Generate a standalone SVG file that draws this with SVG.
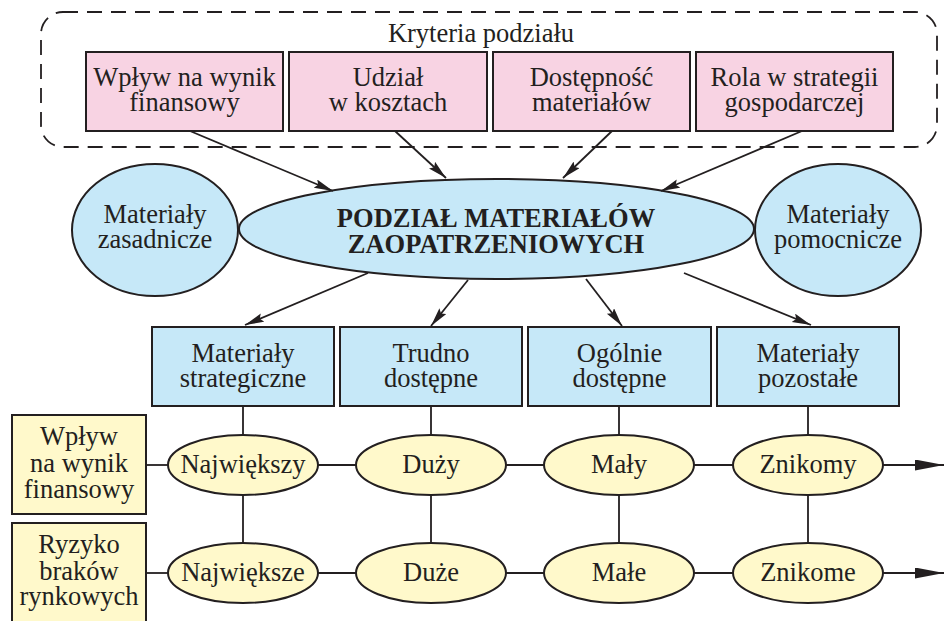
<svg xmlns="http://www.w3.org/2000/svg" width="944" height="621" viewBox="0 0 944 621" font-family="'Liberation Serif', 'DejaVu Serif', serif">
  <defs>
    <style>
      text { font-family: 'Liberation Serif', 'DejaVu Serif', serif; font-size: 26.5px; fill: #231F20; text-anchor: middle; }
      .bold { font-weight: bold; }
      .pink { fill: #F8D3E3; stroke: #231F20; stroke-width: 2; }
      .blue { fill: #C6E8F8; stroke: #231F20; stroke-width: 2; }
      .yellow { fill: #FFF9CB; stroke: #231F20; stroke-width: 2; }
      .frame { fill: none; stroke: #231F20; stroke-width: 1.8; stroke-dasharray: 15 9; }
      .arrow { fill: none; stroke: #231F20; stroke-width: 1.8; marker-end: url(#head); }
      .link { fill: none; stroke: #231F20; stroke-width: 1.8; }
      .longarrow { fill: none; stroke: #231F20; stroke-width: 1.8; marker-end: url(#bighead); }
    </style>
    <marker id="head" markerUnits="userSpaceOnUse" markerWidth="20" markerHeight="10" refX="19" refY="4.5" orient="auto">
      <path d="M0,0 L19,4.5 L0,9 L3,4.5 z" fill="#231F20"/>
    </marker>
    <marker id="bighead" markerUnits="userSpaceOnUse" markerWidth="30" markerHeight="12" refX="29" refY="5.5" orient="auto">
      <path d="M0,0 L29,5.5 L0,11 z" fill="#231F20"/>
    </marker>
  </defs>

  <!-- criteria frame -->
  <g id="criteria">
    <rect class="frame" x="41" y="12" width="896" height="135" rx="22" ry="22"/>
    <text x="481" y="42">Kryteria podziału</text>
  </g>

  <g id="c-wplyw">
    <rect class="pink" x="86" y="52" width="197" height="79"/>
    <text x="184.5" y="86">Wpływ na wynik</text>
    <text x="184.5" y="111">finansowy</text>
  </g>
  <g id="c-udzial">
    <rect class="pink" x="289" y="52" width="198" height="79"/>
    <text x="388" y="86">Udział</text>
    <text x="388" y="111">w kosztach</text>
  </g>
  <g id="c-dostepnosc">
    <rect class="pink" x="493" y="52" width="197" height="79"/>
    <text x="591.5" y="86">Dostępność</text>
    <text x="591.5" y="111">materiałów</text>
  </g>
  <g id="c-rola">
    <rect class="pink" x="696" y="52" width="197" height="79"/>
    <text x="794.5" y="86">Rola w strategii</text>
    <text x="794.5" y="111">gospodarczej</text>
  </g>

  <!-- central level -->
  <g id="zasadnicze">
    <ellipse class="blue" cx="155" cy="230" rx="83" ry="66"/>
    <text x="155" y="223">Materiały</text>
    <text x="155" y="248">zasadnicze</text>
  </g>
  <g id="podzial">
    <ellipse class="blue" cx="496.5" cy="229" rx="257.5" ry="50"/>
    <text class="bold" x="496" y="227">PODZIAŁ MATERIAŁÓW</text>
    <text class="bold" x="496" y="253">ZAOPATRZENIOWYCH</text>
  </g>
  <g id="pomocnicze">
    <ellipse class="blue" cx="838" cy="230" rx="83" ry="66"/>
    <text x="838" y="223">Materiały</text>
    <text x="838" y="248">pomocnicze</text>
  </g>

  <!-- categories -->
  <g id="strategiczne">
    <rect class="blue" x="152" y="327" width="182" height="79"/>
    <text x="243" y="362">Materiały</text>
    <text x="243" y="387">strategiczne</text>
  </g>
  <g id="trudno">
    <rect class="blue" x="340" y="327" width="182" height="79"/>
    <text x="431" y="362">Trudno</text>
    <text x="431" y="387">dostępne</text>
  </g>
  <g id="ogolnie">
    <rect class="blue" x="528" y="327" width="183" height="79"/>
    <text x="619.5" y="362">Ogólnie</text>
    <text x="619.5" y="387">dostępne</text>
  </g>
  <g id="pozostale">
    <rect class="blue" x="717" y="327" width="182" height="79"/>
    <text x="808" y="362">Materiały</text>
    <text x="808" y="387">pozostałe</text>
  </g>

  <!-- connectors -->
  <g id="connectors">
    <line class="arrow" x1="190" y1="131" x2="333" y2="191"/>
    <line class="arrow" x1="395" y1="131" x2="446" y2="178"/>
    <line class="arrow" x1="612" y1="131" x2="563" y2="178"/>
    <line class="arrow" x1="802" y1="131" x2="661" y2="191"/>

    <line class="arrow" x1="368" y1="273" x2="245" y2="325"/>
    <line class="arrow" x1="468" y1="280" x2="431" y2="326"/>
    <line class="arrow" x1="586" y1="279" x2="622" y2="326"/>
    <line class="arrow" x1="684" y1="273" x2="811" y2="325"/>

    <line class="link" x1="243" y1="406" x2="243" y2="435"/>
    <line class="link" x1="431" y1="406" x2="431" y2="435"/>
    <line class="link" x1="619" y1="406" x2="619" y2="435"/>
    <line class="link" x1="808" y1="406" x2="808" y2="435"/>

    <line class="link" x1="243" y1="495" x2="243" y2="543"/>
    <line class="link" x1="431" y1="495" x2="431" y2="543"/>
    <line class="link" x1="619" y1="495" x2="619" y2="543"/>
    <line class="link" x1="808" y1="495" x2="808" y2="543"/>

    <line class="link" x1="146" y1="465" x2="168" y2="465"/>
    <line class="link" x1="318" y1="465" x2="356" y2="465"/>
    <line class="link" x1="506" y1="465" x2="544" y2="465"/>
    <line class="link" x1="694" y1="465" x2="733" y2="465"/>
    <line class="longarrow" x1="883" y1="465" x2="944" y2="465"/>

    <line class="link" x1="146" y1="573" x2="168" y2="573"/>
    <line class="link" x1="318" y1="573" x2="356" y2="573"/>
    <line class="link" x1="506" y1="573" x2="544" y2="573"/>
    <line class="link" x1="694" y1="573" x2="733" y2="573"/>
    <line class="longarrow" x1="883" y1="573" x2="944" y2="573"/>
  </g>

  <!-- row headers -->
  <g id="row-wplyw">
    <rect class="yellow" x="12" y="415" width="134" height="99"/>
    <text x="79" y="445">Wpływ</text>
    <text x="79" y="472">na wynik</text>
    <text x="79" y="498">finansowy</text>
  </g>
  <g id="row-ryzyko">
    <rect class="yellow" x="12" y="523" width="134" height="100"/>
    <text x="79" y="553">Ryzyko</text>
    <text x="79" y="580">braków</text>
    <text x="79" y="605">rynkowych</text>
  </g>

  <!-- value ellipses -->
  <g id="v-najwiekszy">
    <ellipse class="yellow" cx="243" cy="465" rx="75" ry="30"/>
    <text x="243" y="473">Największy</text>
  </g>
  <g id="v-duzy">
    <ellipse class="yellow" cx="431" cy="465" rx="75" ry="30"/>
    <text x="431" y="473">Duży</text>
  </g>
  <g id="v-maly">
    <ellipse class="yellow" cx="619" cy="465" rx="75" ry="30"/>
    <text x="619" y="473">Mały</text>
  </g>
  <g id="v-znikomy">
    <ellipse class="yellow" cx="808" cy="465" rx="75" ry="30"/>
    <text x="808" y="473">Znikomy</text>
  </g>

  <g id="v-najwieksze">
    <ellipse class="yellow" cx="243" cy="573" rx="75" ry="30"/>
    <text x="243" y="581">Największe</text>
  </g>
  <g id="v-duze">
    <ellipse class="yellow" cx="431" cy="573" rx="75" ry="30"/>
    <text x="431" y="581">Duże</text>
  </g>
  <g id="v-male">
    <ellipse class="yellow" cx="619" cy="573" rx="75" ry="30"/>
    <text x="619" y="581">Małe</text>
  </g>
  <g id="v-znikome">
    <ellipse class="yellow" cx="808" cy="573" rx="75" ry="30"/>
    <text x="808" y="581">Znikome</text>
  </g>
</svg>
